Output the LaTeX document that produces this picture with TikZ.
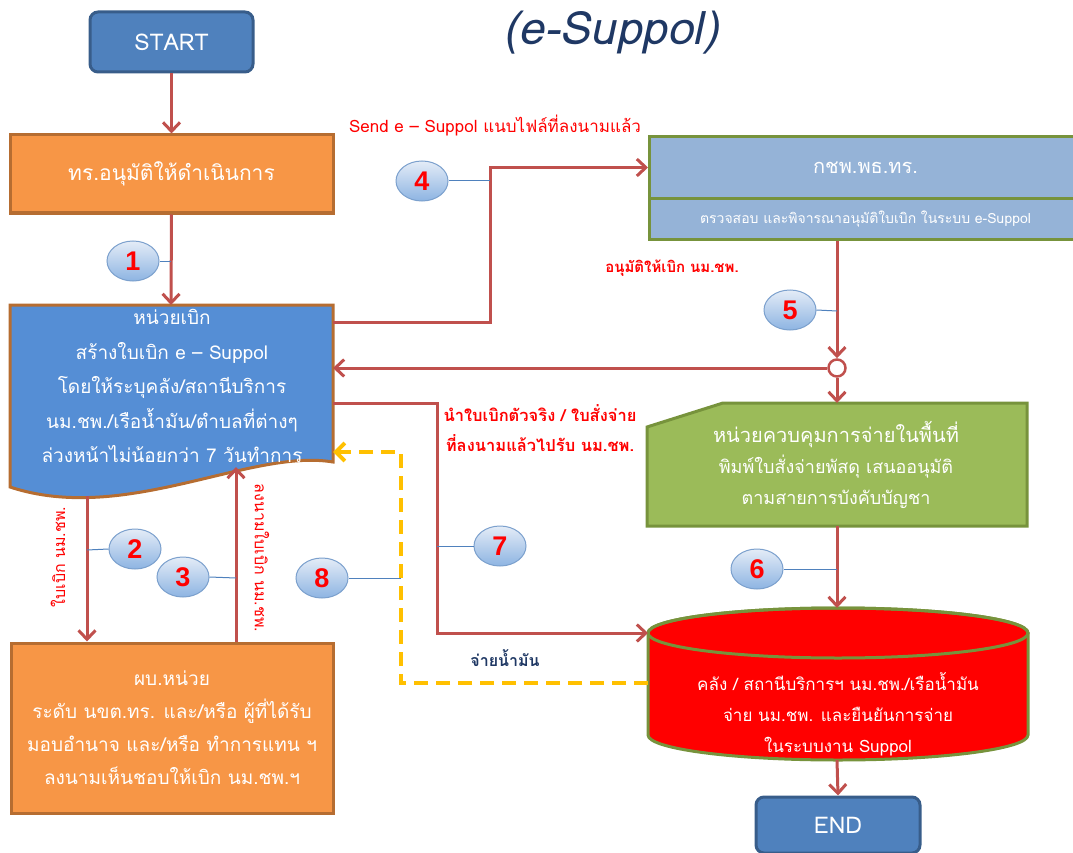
\documentclass[tikz,border=0pt]{standalone}
\usepackage{fontspec}
\setmainfont{Loma}[Script=Thai]
\newfontfamily\numfont{Liberation Sans}
\usetikzlibrary{arrows.meta,shapes.geometric,calc}
\definecolor{arrred}{HTML}{C0504D}
\definecolor{startfill}{HTML}{4F81BD}
\definecolor{startdraw}{HTML}{385D8A}
\definecolor{orfill}{HTML}{F79646}
\definecolor{ordraw}{HTML}{B66D31}
\definecolor{docfill}{HTML}{558ED5}
\definecolor{kcpfill}{HTML}{95B3D7}
\definecolor{olive}{HTML}{77933C}
\definecolor{grfill}{HTML}{9BBB59}
\definecolor{yel}{HTML}{FFC000}
\definecolor{navy}{HTML}{1F3864}
\definecolor{badgetop}{HTML}{E4ECF7}
\definecolor{badgebot}{HTML}{8DB4E2}
\definecolor{badgedraw}{HTML}{7BA0CD}
\definecolor{thinblue}{HTML}{4F81BD}
\begin{document}
\begin{tikzpicture}[x=1pt,y=1pt,
  termbox/.style={rectangle,rounded corners=8pt,fill=startfill,draw=startdraw,line width=3pt,
    text=white,font=\fontsize{23}{26}\selectfont,minimum width=163pt,minimum height=60pt},
  orbox/.style={rectangle,fill=orfill,draw=ordraw,line width=3pt,text=white,align=center},
  kcpbox/.style={rectangle,fill=kcpfill,draw=olive,line width=3pt,text=white,minimum width=432pt},
  arr/.style={draw=arrred,line width=3pt,-{Straight Barb[length=9pt,width=17pt]}},
  plainline/.style={draw=arrred,line width=3pt},
  yarr/.style={draw=yel,line width=4pt,dash pattern=on 14pt off 8pt,-{Straight Barb[length=9pt,width=18pt]}},
  badge/.style={ellipse,minimum width=52pt,minimum height=40pt,top color=badgetop,bottom color=badgebot,
    draw=badgedraw,line width=1pt,text=red,font=\numfont\fontsize{27}{27}\selectfont\bfseries,inner sep=0pt},
  blink/.style={draw=thinblue,line width=1pt},
  redlbl/.style={text=red,font=\fontsize{17}{30}\selectfont,align=center,inner sep=0pt},
  whitetxt/.style={text=white,align=center,inner sep=0pt}
]
\useasboundingbox (0,0) rectangle (1073,-853);

% title
\node[text=navy,font=\fontsize{46}{50}\selectfont\itshape] (title) at (611,-33) {(e-Suppol)};

% START
\node[termbox] (start) at (171.5,-42) {START};

% approval box
\node[orbox,minimum width=323pt,minimum height=78pt,font=\fontsize{21}{24}\selectfont] (appr) at (171.5,-174) {ทร.อนุมัติให้ดำเนินการ};

% document shape (หน่วยเบิก)
\draw[fill=docfill,draw=ordraw,line width=3pt]
  (10,-305) -- (333,-305) -- (333,-462)
  .. controls (250,-448) and (125,-525) .. (10,-487) -- cycle;
\node[whitetxt,font=\fontsize{19}{34.5}\selectfont] (doc) at (172,-386)
  {หน่วยเบิก\\สร้างใบเบิก e – Suppol\\โดยให้ระบุคลัง/สถานีบริการ\\นม.ชพ./เรือน้ำมัน/ตำบลที่ต่างๆ\\ล่วงหน้าไม่น้อยกว่า 7 วันทำการ};
\coordinate (docTop) at (171,-305);
\coordinate (docE4) at (333,-322);
\coordinate (docE5) at (333,-368);
\coordinate (docE7) at (333,-403);
\coordinate (docE8) at (333,-452);
\coordinate (docB2) at (87,-496);
\coordinate (docB3) at (236,-467);

% ผบ.หน่วย box
\node[orbox,minimum width=322pt,minimum height=170pt,font=\fontsize{19}{33}\selectfont] (cmd) at (172,-728)
  {ผบ.หน่วย\\ระดับ นขต.ทร. และ/หรือ ผู้ที่ได้รับ\\มอบอำนาจ และ/หรือ ทำการแทน ฯ\\ลงนามเห็นชอบให้เบิก นม.ชพ.ฯ};

% กชพ box
\node[kcpbox,minimum height=62pt,font=\fontsize{20}{24}\selectfont,anchor=north west] (kcpT) at (648,-135) {กชพ.พธ.ทร.};
\node[kcpbox,minimum height=41pt,font=\fontsize{14}{18}\selectfont,anchor=north west] (kcpB) at (648,-197) {ตรวจสอบ และพิจารณาอนุมัติใบเบิก ในระบบ e-Suppol};

% junction
\node[circle,draw=arrred,fill=white,line width=2.5pt,minimum size=17pt,inner sep=0pt] (junc) at (837,-368) {};

% green box
\draw[fill=grfill,draw=olive,line width=3pt]
  (723,-403) -- (1027,-403) -- (1027,-526) -- (647,-526) -- (647,-427) -- cycle;
\node[whitetxt,font=\fontsize{18}{31}\selectfont] (green) at (836,-465)
  {{\fontsize{20}{31}\selectfont หน่วยควบคุมการจ่ายในพื้นที่}\\พิมพ์ใบสั่งจ่ายพัสดุ เสนออนุมัติ\\ตามสายการบังคับบัญชา};
\coordinate (gTop) at (837,-403);
\coordinate (gBot) at (837,-526);

% cylinder
\draw[fill=red,draw=olive,line width=3pt]
  (648,-633) -- (648,-735) arc[start angle=180,end angle=360,x radius=190,y radius=25]
  -- (1028,-633) arc[start angle=0,end angle=180,x radius=190,y radius=25] -- cycle;
\draw[draw=olive,line width=3pt] (838,-633) ellipse[x radius=190,y radius=25];
\node[whitetxt,font=\fontsize{17}{31}\selectfont] (cyl) at (838,-714)
  {คลัง / สถานีบริการฯ นม.ชพ./เรือน้ำมัน\\จ่าย นม.ชพ. และยืนยันการจ่าย\\ในระบบงาน Suppol};
\coordinate (cTop) at (837,-608);
\coordinate (cBot) at (837,-760);
\coordinate (cW7) at (648,-633);
\coordinate (cW8) at (648,-683);

% END
\node[termbox,minimum width=164pt,minimum height=56pt] (endn) at (838,-825) {END};

% connectors
\draw[arr] (start.south) -- (appr.north);
\draw[arr] (appr.south) -- (docTop);
\draw[arr] (docE4) -- (490,-322) |- (kcpT.west);
\draw[plainline] (kcpB.south -| junc) -- ++(0,-3);
\draw[arr] (kcpB.south -| junc) -- (junc.north);
\draw[arr] (junc.west) -- (docE5);
\draw[arr] (junc.south) -- (gTop);
\draw[arr] (gBot) -- (cTop);
\draw[arr] (docE7) -- (437,-403) |- (cW7);
\draw[yarr] (cW8) -- (401,-683) -- (401,-452) -- (docE8);
\draw[arr] (docB2) -- (docB2 |- cmd.north);
\draw[arr] (docB3 |- cmd.north) -- (docB3);
\draw[arr] (cBot) -- (endn.north);

% labels
\node[redlbl] (l4) at (495,-126) {Send e – Suppol แนบไฟล์ที่ลงนามแล้ว};
\node[redlbl,font=\fontsize{15}{30}\selectfont\bfseries] (l5) at (672,-268) {อนุมัติให้เบิก นม.ชพ.};
\node[redlbl,font=\fontsize{16.5}{30}\selectfont\bfseries] (l7) at (540,-428) {นำใบเบิกตัวจริง / ใบสั่งจ่าย\\ที่ลงนามแล้วไปรับ นม.ชพ.};
\node[text=navy,font=\fontsize{16}{20}\selectfont\bfseries,inner sep=0pt] (l9) at (505,-658) {จ่ายน้ำมัน};
\node[redlbl,font=\fontsize{16}{30}\selectfont,rotate=90] (l2) at (58,-557) {ใบเบิก นม.ชพ.};
\node[redlbl,font=\fontsize{16}{30}\selectfont,rotate=-90] (l3) at (262,-558) {ลงนามใบเบิก นม.ชพ.};

% badges
\node[badge] (b1) at (133,-261) {1};
\node[badge] (b2) at (135,-549) {2};
\node[badge] (b3) at (183,-577) {3};
\node[badge] (b4) at (422,-181) {4};
\node[badge] (b5) at (790,-310) {5};
\node[badge] (b6) at (757,-569) {6};
\node[badge] (b7) at (500,-546) {7};
\node[badge] (b8) at (322,-578) {8};
\draw[blink] (b1.east) -- (171,-261);
\draw[blink] (87,-550) -- (b2.west);
\draw[blink] (b3.east) -- (236,-578);
\draw[blink] (b4.east) -- (490,-181);
\draw[blink] (b5.east) -- (837,-311);
\draw[blink] (b6.east) -- (837,-569);
\draw[blink] (437,-546) -- (b7.west);
\draw[blink] (b8.east) -- (401,-578);
\end{tikzpicture}
\end{document}
